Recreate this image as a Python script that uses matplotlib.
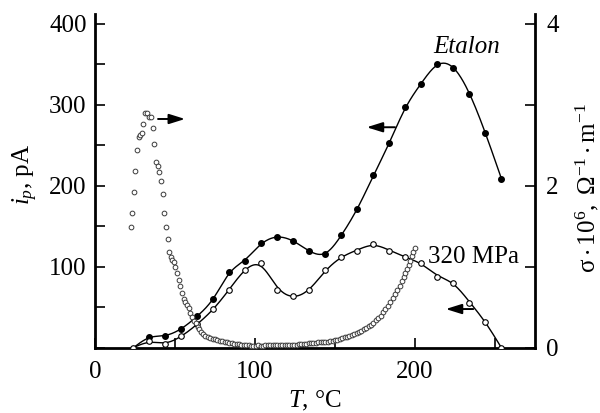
import numpy as np
import matplotlib
matplotlib.use("Agg")
import matplotlib.pyplot as plt
from matplotlib.ticker import MultipleLocator

plt.rcParams["font.family"] = ["Liberation Serif", "DejaVu Serif"]
plt.rcParams["mathtext.fontset"] = "custom"
plt.rcParams["mathtext.rm"] = "Liberation Serif"
plt.rcParams["mathtext.it"] = "Liberation Serif:italic"

# Pyroelectric current, reference sample (filled dots)
T_etalon = [24, 34, 44, 54, 64, 74, 84, 94, 104, 114, 124, 134, 144, 154,
            164, 174, 184, 194, 204, 214, 224, 234, 244, 254]
i_etalon = [0, 13.6, 15, 24, 40, 60, 94, 108, 129, 137, 132, 120, 116, 140,
            172, 213, 253, 297, 326, 350, 346, 314, 265, 209]

# Pyroelectric current after 320 MPa (open circles)
T_320 = [24, 34, 44, 54, 64, 74, 84, 94, 104, 114, 124, 134, 144, 154,
         164, 174, 184, 194, 204, 214, 224, 234, 244, 254]
i_320 = [0, 8.6, 5, 15, 30, 48, 72, 96, 104.5, 72, 64, 72, 96, 112,
         120, 128, 120, 112, 104.5, 88, 80.6, 56, 32, 0]

# Conductivity sigma*1e6 (small open circles, right axis)
T_sigma = [22.5, 23.3, 24.4, 25.2, 26.3, 27.3, 28.3, 29.6, 30.2, 31.5, 32.3,
           33.5, 35.0, 36.3, 37.1, 38.1, 39.4, 40.2, 41.3, 42.4, 43.3, 44.4,
           45.4, 46.5, 47.3, 48.1, 49.2, 50.0, 51.3, 52.3, 53.3, 54.4, 55.4,
           56.5, 57.5, 58.5, 59.6, 60.8, 62.0, 63.1, 64.2, 65.2, 66.4, 67.7,
           68.9, 70.4, 71.9, 73.5, 75.0, 76.5, 78.0, 79.5, 81.0, 82.5, 84.0,
           85.5, 87.0, 88.5, 90.0, 91.5, 93.0, 94.5, 96.0, 97.5, 99.0, 100.5,
           102.0, 103.5, 105.0, 106.5, 108.0, 109.5, 111.0, 112.5, 114.0,
           115.5, 117.0, 118.5, 120.0, 121.5, 123.0, 124.5, 126.0, 127.5,
           129.0, 130.5, 132.0, 133.5, 135.0, 136.5, 138.0, 139.5, 141.0,
           142.5, 144.0, 145.5, 147.0, 148.5, 150.0, 151.5, 153.0, 154.5,
           156.0, 157.5, 159.0, 160.5, 162.0, 163.5, 165.0, 166.5, 168.0,
           169.5, 171.0, 172.5, 174.0, 175.5, 177.0, 178.5, 180.0, 181.5,
           183.0, 184.5, 186.0, 187.5, 189.0, 190.5, 192.0, 193.0, 194.0,
           195.0, 196.0, 197.0, 198.0, 199.0, 200.0]
sigma = [1.49, 1.67, 1.92, 2.19, 2.44, 2.60, 2.63, 2.66, 2.77, 2.90, 2.90,
         2.85, 2.85, 2.71, 2.52, 2.30, 2.25, 2.17, 2.06, 1.90, 1.67, 1.49,
         1.35, 1.19, 1.12, 1.09, 1.06, 1.00, 0.92, 0.84, 0.76, 0.68, 0.61,
         0.57, 0.53, 0.49, 0.43, 0.38, 0.33, 0.31, 0.26, 0.23, 0.20, 0.17,
         0.15, 0.14, 0.12, 0.115, 0.105, 0.10, 0.09, 0.085, 0.08, 0.07, 0.065,
         0.06, 0.055, 0.05, 0.045, 0.04, 0.04, 0.035, 0.035, 0.03, 0.03, 0.03,
         0.035, 0.03, 0.03, 0.035, 0.035, 0.035, 0.035, 0.035, 0.035,
         0.035, 0.035, 0.035, 0.035, 0.04, 0.04, 0.04, 0.04, 0.045,
         0.05, 0.055, 0.055, 0.06, 0.06, 0.065, 0.065, 0.07, 0.07,
         0.075, 0.08, 0.08, 0.085, 0.09, 0.095, 0.10, 0.11, 0.12,
         0.13, 0.14, 0.15, 0.16, 0.17, 0.185, 0.20, 0.215, 0.23,
         0.25, 0.27, 0.29, 0.31, 0.34, 0.37, 0.40, 0.44, 0.48,
         0.52, 0.57, 0.62, 0.67, 0.72, 0.77, 0.83, 0.88, 0.93,
         0.98, 1.03, 1.08, 1.13, 1.18, 1.23]


def smooth_curve(x, y, alpha, n=600):
    """Penalised (smoothing-spline like) fit evaluated on a dense grid."""
    x = np.asarray(x, float)
    y = np.asarray(y, float)
    g = np.linspace(x.min(), x.max(), n)
    h = g[1] - g[0]
    idx = np.clip(np.searchsorted(g, x) - 1, 0, n - 2)
    t = (x - g[idx]) / h
    B = np.zeros((len(x), n))
    B[np.arange(len(x)), idx] = 1 - t
    B[np.arange(len(x)), idx + 1] = t
    D = np.diff(np.eye(n), 2, axis=0)
    A = B.T @ B + alpha / h ** 3 * (D.T @ D)
    f = np.linalg.solve(A, B.T @ y)
    return g, f


fig = plt.figure(figsize=(6.0, 4.13), dpi=100)
ax = fig.add_axes([95 / 600, 65 / 413, 440 / 600, 334 / 413])
ax2 = ax.twinx()

FS = 18
ax.set_xlim(0, 275)
ax.set_ylim(0, 412.3)
ax2.set_ylim(0, 4.123)

# current curves
gx, gy = smooth_curve(T_etalon, i_etalon, alpha=20)
ax.plot(gx, gy, color="black", lw=1.0, zorder=2)
ax.plot(T_etalon[1:], i_etalon[1:], "o", ms=4.0, mfc="black", mec="black",
        zorder=3)

gx, gy = smooth_curve(T_320, i_320, alpha=40)
ax.plot(gx, gy, color="black", lw=1.0, zorder=2)
ax.plot(T_320, i_320, "o", ms=4.0, mfc="white", mec="black", mew=0.8,
        zorder=4)

# conductivity
ax2.plot(T_sigma, sigma, "o", ms=3.4, mfc="white", mec="#3a3a3a", mew=0.7,
         clip_on=False)

# arrows pointing to the relevant axis
arrow = dict(arrowstyle="-|>,head_length=0.8,head_width=0.25",
             color="black", lw=1.4, shrinkA=0, shrinkB=0, mutation_scale=12)
ax.annotate("", xy=(56.3, 282.7), xytext=(39.4, 282.7), arrowprops=arrow)
ax.annotate("", xy=(169.8, 272.5), xytext=(187.5, 272.5), arrowprops=arrow)
ax.annotate("", xy=(219.2, 48.1), xytext=(236.4, 48.1), arrowprops=arrow)

ax.text(232.5, 371.6, "Etalon", fontsize=FS, style="italic",
        ha="center", va="center")
ax.text(208, 112.3, "320 MPa", fontsize=FS, ha="left", va="center")

# spines and ticks
for a in (ax, ax2):
    a.spines["top"].set_visible(False)
    a.patch.set_visible(False)
ax.spines["right"].set_visible(False)
ax2.spines["left"].set_visible(False)
ax2.spines["bottom"].set_visible(False)
for s in ("left", "bottom"):
    ax.spines[s].set_linewidth(2.0)
ax2.spines["right"].set_linewidth(2.0)

ax.xaxis.set_major_locator(MultipleLocator(100))
ax.xaxis.set_minor_locator(MultipleLocator(50))
ax.yaxis.set_major_locator(MultipleLocator(100))
ax.yaxis.set_minor_locator(MultipleLocator(50))
ax2.yaxis.set_major_locator(MultipleLocator(2))
ax2.yaxis.set_minor_locator(MultipleLocator(1))
ax.set_yticks([100, 200, 300, 400])

ax.tick_params(axis="both", which="both", direction="in", length=7,
               width=1.2, labelsize=FS, top=False, right=False)
ax.tick_params(axis="x", which="major", pad=9)
ax.tick_params(axis="y", which="major", pad=6)
ax2.tick_params(axis="y", which="both", direction="in", length=7,
                width=1.2, labelsize=FS, pad=8)

ax.set_ylabel(r"$i_p$, pA", fontsize=FS, va="center")
ax.yaxis.set_label_coords(-0.159, 0.52)
ax.set_xlabel(r"$T$, °C", fontsize=FS, va="center")
ax.xaxis.set_label_coords(0.5, -0.16)
ax2.set_ylabel(r"$\mathregular{σ\cdot10^{6},\ Ω^{-1}\cdot m^{-1}}$",
               fontsize=FS, rotation=90, va="center")
ax2.yaxis.set_label_coords(1.12, 0.48)

fig.savefig("out.png", dpi=100)
